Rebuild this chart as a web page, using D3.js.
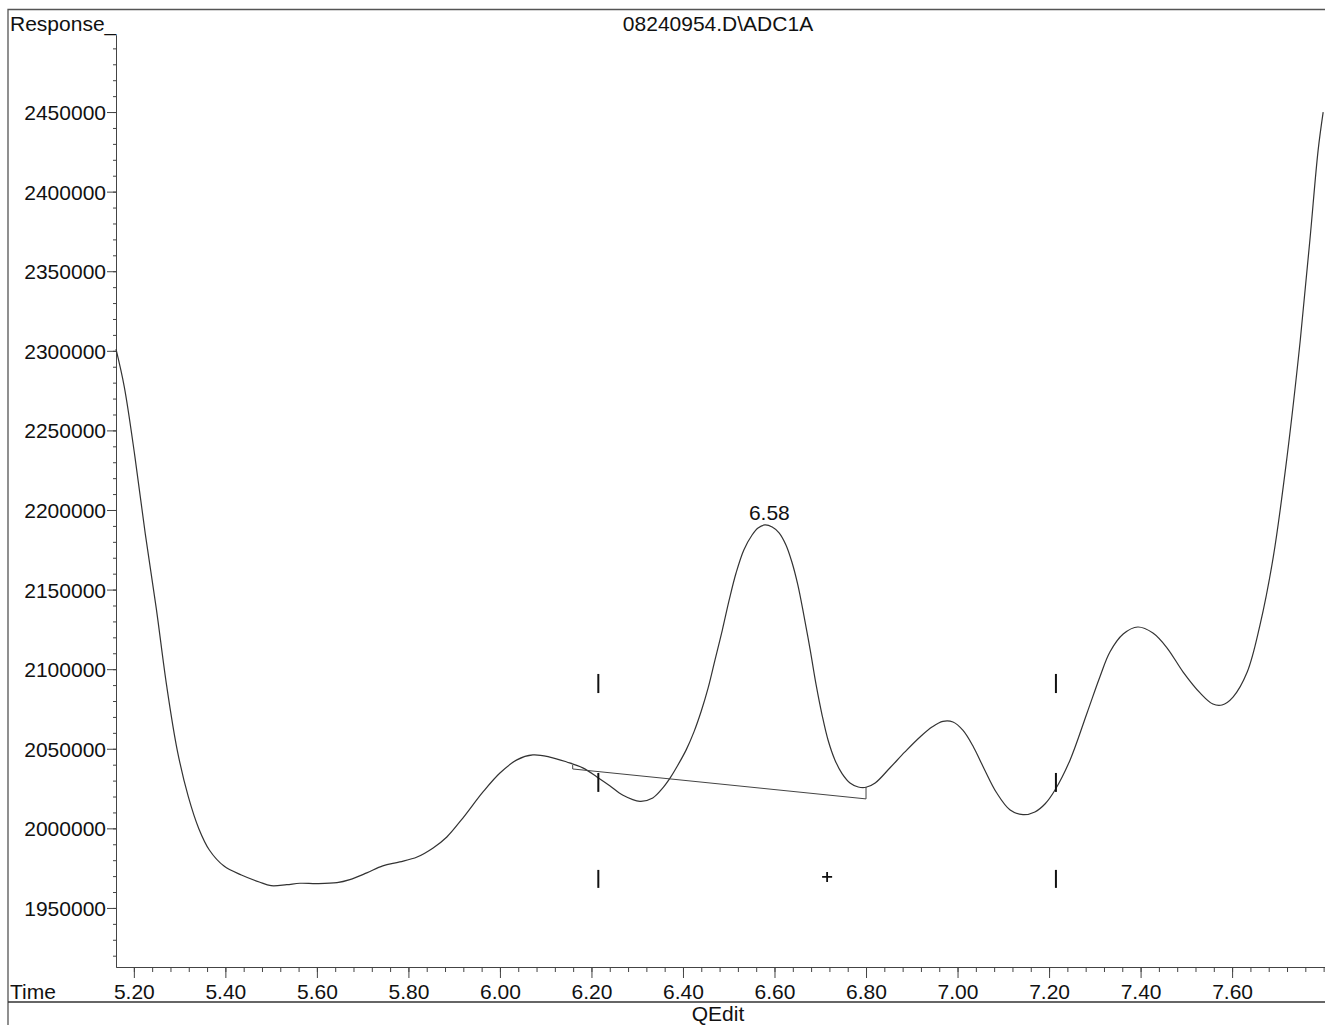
<!DOCTYPE html>
<html>
<head>
<meta charset="utf-8">
<script src="https://cdn.jsdelivr.net/npm/d3@7"></script>
<style>
   body { margin: 0; background: #fff; }
   text { font-family: Arial, 'Liberation Sans', sans-serif; fill: #111; }
</style>
</head>
<body>
<div id="chart"></div>
<script>

// RETENTION TIMES (MIN)
var time = [
   5.161, 5.179, 5.202, 5.225, 5.249, 5.272, 5.295, 5.319, 5.342, 5.365,
   5.397, 5.435, 5.474, 5.500, 5.534, 5.563, 5.600, 5.644, 5.672, 5.709,
   5.744, 5.781, 5.819, 5.854, 5.884, 5.919, 5.963, 6.000, 6.037, 6.072,
   6.109, 6.146, 6.181, 6.212, 6.240, 6.269, 6.306, 6.334, 6.356, 6.372,
   6.389, 6.407, 6.424, 6.440, 6.455, 6.470, 6.486, 6.501, 6.516, 6.533,
   6.551, 6.564, 6.579, 6.595, 6.610, 6.625, 6.638, 6.651, 6.664, 6.678,
   6.691, 6.704, 6.717, 6.732, 6.748, 6.765, 6.783, 6.800, 6.820, 6.852,
   6.885, 6.918, 6.945, 6.968, 6.990, 7.012, 7.035, 7.058, 7.085, 7.115,
   7.143, 7.169, 7.191, 7.213, 7.246, 7.283, 7.311, 7.333, 7.362, 7.394,
   7.427, 7.458, 7.493, 7.530, 7.558, 7.578, 7.602, 7.633, 7.661, 7.690,
   7.720, 7.749, 7.770, 7.788, 7.799
];

// DETECTOR RESPONSE AT EACH TIME
var response = [
   2301000, 2277500, 2234200, 2185000, 2138200, 2089000, 2048900, 2019900, 1999800, 1986400,
   1976300, 1970700, 1966300, 1964000, 1964600, 1965500, 1965300, 1965900, 1967800, 1972000,
   1976400, 1978900, 1982000, 1987700, 1994600, 2006500, 2022900, 2034800, 2043000, 2046100,
   2044800, 2041700, 2038000, 2032300, 2026800, 2020800, 2017000, 2019100, 2025400, 2031700,
   2039800, 2049300, 2060600, 2073700, 2088200, 2105800, 2124600, 2143500, 2160400, 2174900,
   2184300, 2188700, 2190600, 2189300, 2185600, 2178000, 2167300, 2152900, 2134100, 2112100,
   2090100, 2071200, 2055500, 2043000, 2034200, 2028500, 2026000, 2025800, 2028500, 2037900,
   2048000, 2057400, 2063800, 2067200, 2066800, 2061500, 2051000, 2037500, 2022500, 2011500,
   2008600, 2010300, 2015300, 2024100, 2043000, 2072500, 2095100, 2110800, 2122100, 2126500,
   2122700, 2113300, 2098200, 2085100, 2078100, 2077500, 2082500, 2098200, 2127800, 2170500,
   2233300, 2306800, 2369600, 2426100, 2450000
];

// INTEGRATION BASELINE (START DROP, SLOPE, END DROP)
var baseTime = [6.159, 6.159, 6.800, 6.800];
var baseResponse = [2039800, 2037300, 2018500, 2026000];

// EVENT MARKS AT PEAK WINDOW EDGES
var markTime = [6.215, 7.215];
var markLow = [2085000, 2022900, 1962600];
var markHigh = [2097000, 2034800, 1973900];

// CROSS MARK
var crossTime = [6.715];
var crossResponse = [1969500];

// PEAK LABEL
var peakTime = [6.58];
var peakResponse = [2190600];
var peakLabel = ['6.58'];

// AXIS TICKS
var yTicks = [1950000, 2000000, 2050000, 2100000, 2150000, 2200000, 2250000, 2300000, 2350000, 2400000, 2450000];
var xTicks = [5.2, 5.4, 5.6, 5.8, 6.0, 6.2, 6.4, 6.6, 6.8, 7.0, 7.2, 7.4, 7.6];

// TEXTS
var title = '08240954.D\\ADC1A';
var yTitle = 'Response_';
var xTitle = 'Time';
var footer = 'QEdit';

// SETTINGS
var settings = {
   width: 1325,
   height: 1025,
   left: 116,
   right: 1325,
   top: 35,
   bottom: 967,
   font: 21,
   ink: '#111'
};

// SCALES
var xScale = d3.scaleLinear()
   .domain([5.161, 7.803])
   .range([settings.left, settings.right])

var yScale = d3.scaleLinear()
   .domain([1912900, 2498400])
   .range([settings.bottom, settings.top])

// CANVAS
var canvas = d3.select('#chart').append('svg')
   .attr('width', settings.width)
   .attr('height', settings.height)
   .style('display', 'block')

// FRAME LINES
canvas.append('path')
   .attr('d', 'M8,1025V9.5H1325')
   .attr('fill', 'none')
   .attr('stroke', '#555')
   .attr('stroke-width', 1.3)

canvas.append('line')
   .attr('x1', 8).attr('x2', 1325)
   .attr('y1', 1002).attr('y2', 1002)
   .attr('stroke', '#333')
   .attr('stroke-width', 1.5)

// Y-AXIS MINOR TICKS
canvas.append('g')
   .attr('transform', 'translate(' + settings.left + ',0)')
   .call(d3.axisLeft(yScale)
      .tickValues(d3.range(1920000, 2498000, 10000))
      .tickSize(3)
      .tickSizeOuter(0)
      .tickFormat(''))
   .call(g => g.selectAll('line, path').attr('stroke', '#444'))

// Y-AXIS MAJOR TICKS
canvas.append('g')
   .attr('transform', 'translate(' + settings.left + ',0)')
   .call(d3.axisLeft(yScale)
      .tickValues(yTicks)
      .tickSize(9)
      .tickSizeOuter(0)
      .tickPadding(1)
      .tickFormat(d3.format('d')))
   .call(g => g.selectAll('line, path').attr('stroke', '#444'))
   .call(g => g.selectAll('text')
      .attr('font-size', settings.font)
      .attr('font-family', null)
      .attr('fill', settings.ink)
      .attr('dy', '0.36em'))

// X-AXIS MINOR TICKS
canvas.append('g')
   .attr('transform', 'translate(0,' + settings.bottom + ')')
   .call(d3.axisBottom(xScale)
      .tickValues(d3.range(5.2, 7.81, 0.04))
      .tickSize(5)
      .tickSizeOuter(0)
      .tickFormat(''))
   .call(g => g.selectAll('line, path').attr('stroke', '#444'))

// X-AXIS MAJOR TICKS
canvas.append('g')
   .attr('transform', 'translate(0,' + settings.bottom + ')')
   .call(d3.axisBottom(xScale)
      .tickValues(xTicks)
      .tickSize(11)
      .tickSizeOuter(0)
      .tickFormat(d3.format('.2f')))
   .call(g => g.select('.domain').remove())
   .call(g => g.selectAll('line').attr('stroke', '#444'))
   .call(g => g.selectAll('text')
      .attr('font-size', settings.font)
      .attr('font-family', null)
      .attr('fill', settings.ink)
      .attr('y', 32)
      .attr('dy', null))

// TITLES
canvas.append('text')
   .attr('x', 718).attr('y', 31)
   .attr('text-anchor', 'middle')
   .attr('font-size', settings.font)
   .text(title)

canvas.append('text')
   .attr('x', 10).attr('y', 31)
   .attr('font-size', settings.font)
   .text(yTitle)

canvas.append('text')
   .attr('x', 10).attr('y', 999)
   .attr('font-size', settings.font)
   .text(xTitle)

canvas.append('text')
   .attr('x', 718).attr('y', 1021)
   .attr('text-anchor', 'middle')
   .attr('font-size', settings.font)
   .text(footer)

// SIGNAL TRACE
var line = d3.line()
   .x((d, i) => { return xScale(time[i]) })
   .y((d) => { return yScale(d) })
   .curve(d3.curveCatmullRom.alpha(0.5))

canvas.append('path')
   .attr('d', line(response))
   .attr('fill', 'none')
   .attr('stroke', '#333')
   .attr('stroke-width', 1.2)

// BASELINE
var baseline = d3.line()
   .x((d, i) => { return xScale(baseTime[i]) })
   .y((d) => { return yScale(d) })

canvas.append('path')
   .attr('d', baseline(baseResponse))
   .attr('fill', 'none')
   .attr('stroke', '#444')
   .attr('stroke-width', 1)

// EVENT MARKS
markTime.forEach(t => {
   markLow.forEach((low, i) => {
      canvas.append('line')
         .attr('x1', xScale(t)).attr('x2', xScale(t))
         .attr('y1', yScale(low)).attr('y2', yScale(markHigh[i]))
         .attr('stroke', '#111')
         .attr('stroke-width', 2)
   });
});

// CROSS MARK
crossTime.forEach((t, i) => {
   var cx = xScale(t), cy = yScale(crossResponse[i]);
   canvas.append('path')
      .attr('d', 'M' + (cx - 5) + ',' + cy + 'H' + (cx + 5) + 'M' + cx + ',' + (cy - 5) + 'V' + (cy + 5))
      .attr('stroke', '#111')
      .attr('stroke-width', 1.8)
});

// PEAK LABEL
canvas.selectAll('text.peak')
   .data(peakLabel)
      .enter().append('text')
         .attr('class', 'peak')
         .attr('x', (d, i) => { return xScale(peakTime[i]) + 4 })
         .attr('y', (d, i) => { return yScale(peakResponse[i]) - 5 })
         .attr('text-anchor', 'middle')
         .attr('font-size', settings.font)
         .text((d) => { return d })

</script>
</body>
</html>
